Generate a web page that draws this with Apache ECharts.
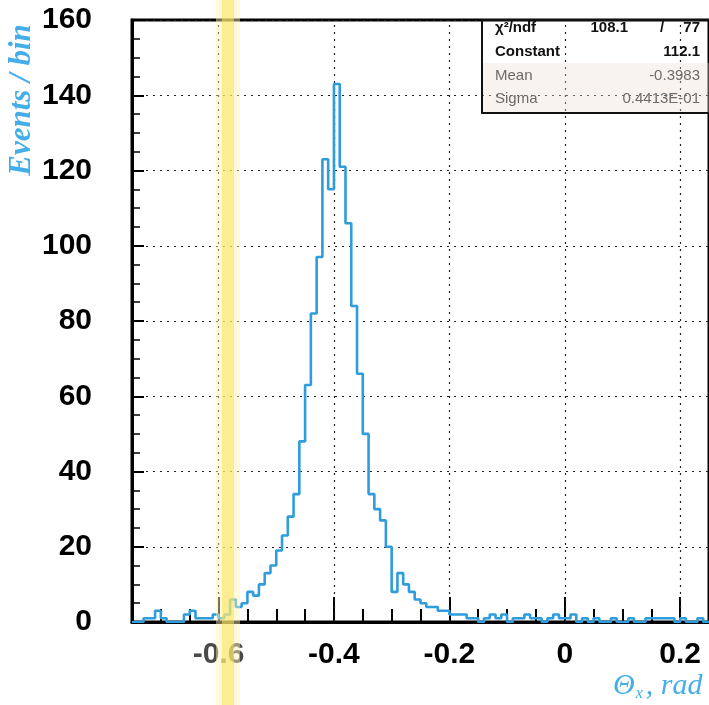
<!DOCTYPE html>
<html>
<head>
<meta charset="utf-8">
<script src="https://cdn.jsdelivr.net/npm/echarts@6/dist/echarts.min.js"></script>
<style>
  html, body { margin: 0; padding: 0; background: #fff; }
  #chart { width: 709px; height: 705px; }
</style>
</head>
<body>
<div id="chart"></div>
<script>
// Theta_x distribution: 100 bins of 0.01 rad starting at -0.75 rad
const binLow = -0.75;
const binWidth = 0.01;
const counts = [
  0, 0, 1, 1, 3, 1, 0, 0, 0, 2,
  3, 1, 1, 1, 2, 1, 2, 6, 4, 5,
  8, 7, 10, 13, 15, 19, 23, 28, 34, 48,
  63, 82, 97, 123, 115, 143, 121, 106, 84, 66,
  50, 34, 30, 27, 20, 8, 13, 10, 8, 6,
  5, 4, 4, 3, 3, 2, 2, 2, 1, 1,
  0, 1, 2, 1, 2, 0, 1, 1, 2, 1,
  1, 0, 1, 2, 1, 1, 2, 0, 1, 0,
  1, 0, 0, 1, 0, 0, 1, 0, 0, 1,
  1, 1, 1, 1, 0, 1, 0, 0, 1, 0
];
const xMajorTicks = [-0.6, -0.4, -0.2, 0, 0.2];
const xRange = [-0.75, 0.25];
const yRange = [0, 160];
const yStep = 20;

// Gaussian fit summary
const statNames = ['Constant', 'Mean', 'Sigma'];
const statValues = ['112.1', '-0.3983', '0.4413E-01'];
const chi2 = '108.1';
const ndf = '77';

// step outline points: left edge of each bin, plus the closing right edge
const histPoints = counts.map((c, i) => [+(binLow + i * binWidth).toFixed(4), c]);
histPoints.push([+(binLow + counts.length * binWidth).toFixed(4), counts[counts.length - 1]]);

const chart = echarts.init(document.getElementById('chart'), null, { renderer: 'canvas' });

const tickFont = {
  fontFamily: '"Liberation Sans", Arial, sans-serif',
  fontWeight: 'bold',
  fontSize: 30,
  color: '#000'
};
const blueTitle = '#45aee8';
const dotted = { type: [2, 5], color: '#222', width: 1.2 };
const statFont = '15px "Liberation Sans", Arial, sans-serif';

const statTexts = [];
const rowY = [52, 76, 99];
statNames.forEach((n, k) => {
  const dark = k === 0;
  const style = { font: (dark ? 'bold ' : '') + statFont, fill: dark ? '#111' : '#6b6b6b', verticalAlign: 'middle' };
  statTexts.push({ type: 'text', x: 495, y: rowY[k], z: 20, style: { ...style, text: n } });
  statTexts.push({ type: 'text', x: 700, y: rowY[k], z: 20, style: { ...style, text: statValues[k], align: 'right' } });
});

chart.setOption({
  animation: false,
  backgroundColor: '#fff',
  grid: { left: 132, right: -3, top: 20, bottom: 83, show: true, borderColor: '#000', borderWidth: 3 },
  xAxis: [
    {
      type: 'value', min: xRange[0], max: xRange[1], interval: 0.05,
      axisLine: { show: true, onZero: false, lineStyle: { color: '#000', width: 3 } },
      axisTick: { show: true, inside: true, length: 13, lineStyle: { color: '#000', width: 2 } },
      axisLabel: { show: false },
      splitLine: { show: false }
    },
    {
      type: 'value', min: xRange[0], max: xRange[1], position: 'bottom',
      axisLine: { show: false, onZero: false },
      axisTick: { show: true, inside: true, length: 25, customValues: xMajorTicks,
                  lineStyle: { color: '#000', width: 2 } },
      axisLabel: {
        show: true, margin: 18, customValues: xMajorTicks,
        ...tickFont,
        formatter: v => (Math.abs(v + 0.6) < 1e-9 ? '{g|-0.6}' : String(+v.toFixed(2))),
        rich: { g: { ...tickFont, color: '#4a4a4a' } }
      },
      splitLine: { show: false }
    }
  ],
  yAxis: {
    type: 'value', min: yRange[0], max: yRange[1], interval: yStep,
    axisLine: { show: true, onZero: false, lineStyle: { color: '#000', width: 3 } },
    axisTick: { show: true, inside: true, length: 12, lineStyle: { color: '#000', width: 2 } },
    minorTick: { show: true, splitNumber: 4, length: 8, lineStyle: { color: '#000', width: 1.5 } },
    axisLabel: { margin: 40, ...tickFont },
    splitLine: { show: true, lineStyle: dotted }
  },
  series: [{
    type: 'line',
    xAxisIndex: 0,
    step: 'end',
    data: histPoints,
    symbol: 'none',
    lineStyle: { color: '#2f9cdb', width: 2.6 },
    markLine: {
      silent: true, symbol: 'none', label: { show: false },
      lineStyle: dotted,
      data: xMajorTicks.map(v => ({ xAxis: v }))
    },
    z: 5
  }],
  graphic: [
    // pale yellow marker stripe across the page
    { type: 'rect', z: 30, shape: { x: 216, y: 0, width: 24, height: 705 },
      style: { fill: 'rgba(255, 243, 170, 0.45)' } },
    { type: 'rect', z: 31, shape: { x: 222, y: 0, width: 12, height: 705 },
      style: { fill: 'rgba(250, 226, 90, 0.55)' } },
    // fit statistics box
    { type: 'rect', z: 18, shape: { x: 482, y: 63, width: 230, height: 50 },
      style: { fill: 'rgba(238, 222, 208, 0.35)' } },
    { type: 'rect', z: 19, shape: { x: 482, y: 20, width: 230, height: 93 },
      style: { fill: 'none', stroke: '#111', lineWidth: 2 } },
    { type: 'text', x: 495, y: 28, z: 20,
      style: { text: 'χ²/ndf', font: 'bold ' + statFont, fill: '#111', verticalAlign: 'middle' } },
    { type: 'text', x: 628, y: 28, z: 20,
      style: { text: chi2, font: 'bold ' + statFont, fill: '#111', align: 'right', verticalAlign: 'middle' } },
    { type: 'text', x: 662, y: 28, z: 20,
      style: { text: '/', font: 'bold ' + statFont, fill: '#111', align: 'center', verticalAlign: 'middle' } },
    { type: 'text', x: 700, y: 28, z: 20,
      style: { text: ndf, font: 'bold ' + statFont, fill: '#111', align: 'right', verticalAlign: 'middle' } },
    ...statTexts,
    // axis titles
    { type: 'text', x: 22, y: 100, rotation: Math.PI / 2, z: 20,
      style: { text: 'Events / bin', font: 'italic bold 31px "Liberation Serif", "DejaVu Serif", serif',
               fill: blueTitle, align: 'center', verticalAlign: 'middle' } },
    { type: 'text', x: 613, y: 686, z: 20,
      style: {
        text: '{a|Θ}{s|x}{a|, rad}',
        verticalAlign: 'middle',
        rich: {
          a: { font: 'italic 30px "Liberation Serif", "DejaVu Serif", serif', fill: blueTitle },
          s: { font: 'italic 16px "Liberation Serif", "DejaVu Serif", serif', fill: blueTitle, padding: [15, 3, 0, 1] }
        }
      } }
  ]
});
</script>
</body>
</html>
